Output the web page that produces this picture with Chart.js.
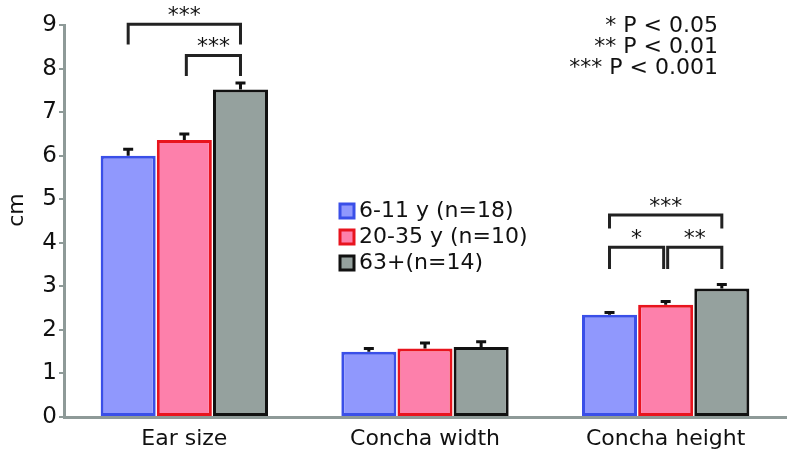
<!DOCTYPE html>
<html>
<head>
<meta charset="utf-8">
<script src="https://cdn.jsdelivr.net/npm/chart.js@4.4.0/dist/chart.umd.min.js"></script>
<style>
  html, body { margin: 0; padding: 0; background: #fff; }
  #wrap { width: 789px; height: 452px; position: relative; }
</style>
</head>
<body>
<div id="wrap"><canvas id="earChart"></canvas></div>
<script>
// categories and group labels
const categories = ['Ear size', 'Concha width', 'Concha height'];
const groupLabels = ['6-11 y (n=18)', '20-35 y (n=10)', '63+(n=14)'];

// means (cm)
const kids = [6.0, 1.5, 2.35];
const adults = [6.36, 1.57, 2.58];
const seniors = [7.52, 1.61, 2.95];

// standard errors (upper half only drawn)
const kidsErr = [0.15, 0.07, 0.05];
const adultsErr = [0.14, 0.13, 0.07];
const seniorsErr = [0.15, 0.12, 0.09];

const yTicks = [0, 1, 2, 3, 4, 5, 6, 7, 8, 9];

// significance brackets: [category, fromGroup, toGroup, topValue, legValue, stars]
const brackets = [
    [0, 0, 2, 9.02, 8.55, '***'],
    [0, 1, 2, 8.3, 7.83, '***'],
    [2, 0, 2, 4.64, 4.33, '***'],
    [2, 0, 1, 3.9, 3.4, '*'],
    [2, 1, 2, 3.9, 3.4, '**']
];

const pLegend = ['* P < 0.05', '** P < 0.01', '*** P < 0.001'];

const fills = ['#9098fd', '#fd80ab', '#95a19e'];
const borders = ['#3a4fe8', '#e8141e', '#111111'];
const axisGray = '#8e9a98';
const fontFamily = '"DejaVu Sans", Verdana, sans-serif';

const extrasPlugin = {
    id: 'extras',
    afterDatasetsDraw(chart) {
        const ctx = chart.ctx;
        const y = chart.scales.y;
        const errs = [kidsErr, adultsErr, seniorsErr];

        // error bars
        ctx.save();
        ctx.strokeStyle = '#111';
        ctx.lineWidth = 3;
        chart.data.datasets.forEach((ds, di) => {
            const meta = chart.getDatasetMeta(di);
            meta.data.forEach((bar, i) => {
                const top = y.getPixelForValue(ds.data[i] + errs[di][i]);
                ctx.beginPath();
                ctx.moveTo(bar.x, bar.y);
                ctx.lineTo(bar.x, top);
                ctx.moveTo(bar.x - 5, top);
                ctx.lineTo(bar.x + 5, top);
                ctx.stroke();
            });
        });

        // brackets
        ctx.strokeStyle = '#222';
        ctx.lineWidth = 3;
        ctx.fillStyle = '#111';
        ctx.font = '22px ' + fontFamily;
        ctx.textAlign = 'center';
        ctx.textBaseline = 'middle';
        brackets.forEach(b => {
            const x1 = chart.getDatasetMeta(b[1]).data[b[0]].x + (b[1] === 1 ? 2 : 0);
            const x2 = chart.getDatasetMeta(b[2]).data[b[0]].x - (b[2] === 1 ? 2 : 0);
            const yt = y.getPixelForValue(b[3]);
            const yl = y.getPixelForValue(b[4]);
            ctx.beginPath();
            ctx.moveTo(x1, yl);
            ctx.lineTo(x1, yt);
            ctx.lineTo(x2, yt);
            ctx.lineTo(x2, yl);
            ctx.stroke();
            ctx.fillText(b[5], (x1 + x2) / 2, yt - 8);
        });

        // legend box
        ctx.font = '22px ' + fontFamily;
        ctx.textAlign = 'left';
        ctx.textBaseline = 'middle';
        groupLabels.forEach((lab, i) => {
            const cy = 211 + i * 26;
            ctx.fillStyle = fills[i];
            ctx.fillRect(340, cy - 7, 14, 14);
            ctx.strokeStyle = borders[i];
            ctx.lineWidth = 3;
            ctx.strokeRect(340, cy - 7, 14, 14);
            ctx.fillStyle = '#111';
            ctx.fillText(lab, 359, cy);
        });

        // p-value key
        ctx.textAlign = 'right';
        pLegend.forEach((t, i) => {
            ctx.fillText(t, 718, 26 + i * 21);
        });

        // y title
        ctx.save();
        ctx.translate(17, 210);
        ctx.rotate(-Math.PI / 2);
        ctx.textAlign = 'center';
        ctx.font = '22px ' + fontFamily;
        ctx.fillText('cm', 0, 0);
        ctx.restore();
        ctx.restore();
    }
};

const ctx = document.getElementById('earChart').getContext('2d');
new Chart(ctx, {
    type: 'bar',
    data: {
        labels: categories,
        datasets: [kids, adults, seniors].map((vals, i) => ({
            label: groupLabels[i],
            data: vals,
            backgroundColor: fills[i],
            borderColor: borders[i],
            borderWidth: 3,
            borderSkipped: false,
            barPercentage: 0.98,
            categoryPercentage: 0.7
        }))
    },
    options: {
        responsive: true,
        maintainAspectRatio: false,
        animation: false,
        layout: { padding: { top: 25, right: 3, left: 0, bottom: 0 } },
        plugins: {
            legend: { display: false },
            tooltip: { enabled: false }
        },
        scales: {
            x: {
                grid: { display: false, drawTicks: false },
                border: { color: axisGray, width: 3 },
                ticks: {
                    color: '#111',
                    padding: 9,
                    font: { family: fontFamily, size: 22 }
                },
                afterFit(scale) { scale.height = 35; }
            },
            y: {
                min: 0,
                max: 9,
                afterBuildTicks(scale) {
                    scale.ticks = yTicks.map(v => ({ value: v }));
                },
                grid: { display: true, drawOnChartArea: false, drawTicks: true, tickLength: 5, color: axisGray, lineWidth: 2 },
                border: { color: axisGray, width: 3 },
                ticks: {
                    color: '#111',
                    padding: 2,
                    font: { family: fontFamily, size: 23 }
                },
                afterFit(scale) { scale.width = 64; }
            }
        }
    },
    plugins: [extrasPlugin]
});
</script>
</body>
</html>
